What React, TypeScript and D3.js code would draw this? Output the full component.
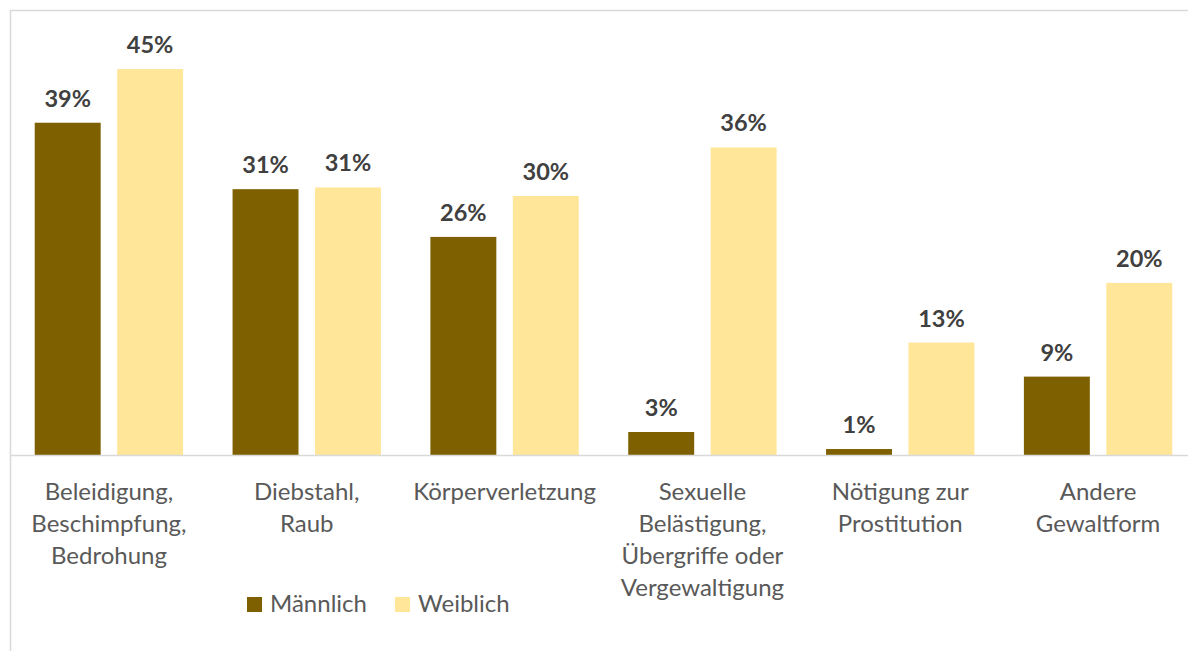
import React from "react";
import * as d3 from "d3";

const categories: string[][] = [
  ["Beleidigung,", "Beschimpfung,", "Bedrohung"],
  ["Diebstahl,", "Raub"],
  ["Körperverletzung"],
  ["Sexuelle", "Belästigung,", "Übergriffe oder", "Vergewaltigung"],
  ["Nötigung zur", "Prostitution"],
  ["Andere", "Gewaltform"],
];
const maennlich = [39.0, 31.2, 25.6, 2.7, 0.7, 9.2];
const weiblich = [45.3, 31.4, 30.4, 36.1, 13.2, 20.2];
const seriesNames = ["Männlich", "Weiblich"];
const seriesColors = ["#7F6000", "#FFE699"];

const W = 1188;
const H = 651;
const FONT = "Lato, 'Open Sans', sans-serif";

export default function App() {
  const baseY = 455;
  const x0 = d3
    .scaleBand<number>()
    .domain(categories.map((_, i) => i))
    .range([10, 1197])
    .paddingInner(0)
    .paddingOuter(0);
  const x1 = d3
    .scaleBand<number>()
    .domain([0, 1])
    .range([0, x0.bandwidth()])
    .paddingInner(0.2)
    .paddingOuter(0.3);
  const y = d3.scaleLinear().domain([0, 50]).range([baseY, baseY - 426]);
  const fmt = (v: number) => `${Math.round(v)}%`;
  const series = [maennlich, weiblich];

  return (
    <svg
      width={W}
      height={H}
      style={{ position: "absolute", left: 0, top: 0, background: "#fff" }}
      fontFamily={FONT}
    >
      <rect x={10.5} y={10.5} width={W + 20} height={H + 20} fill="#fff" stroke="#D9D9D9" strokeWidth={1.5} />
      {series.map((vals, s) =>
        vals.map((v, i) => {
          const bx = (x0(i) as number) + (x1(s) as number);
          const bw = x1.bandwidth();
          return (
            <g key={`${s}-${i}`}>
              <rect x={bx} y={y(v)} width={bw} height={baseY - y(v)} fill={seriesColors[s]} />
              <text
                x={bx + bw / 2}
                y={y(v) - 16}
                textAnchor="middle"
                fontSize={23.5}
                fontWeight={700}
                fill="#404040"
              >
                {fmt(v)}
              </text>
            </g>
          );
        })
      )}
      <line x1={10} x2={W} y1={baseY + 0.5} y2={baseY + 0.5} stroke="#D9D9D9" strokeWidth={1.5} />
      {categories.map((lines, i) => {
        const cx = (x0(i) as number) + x0.bandwidth() / 2;
        return (
          <text key={i} textAnchor="middle" fontSize={24} fill="#595959">
            {lines.map((l, j) => (
              <tspan key={j} x={cx} y={500 + j * 32}>
                {l}
              </tspan>
            ))}
          </text>
        );
      })}
      <g>
        {seriesNames.map((n, s) => {
          const lx = s === 0 ? 247 : 395;
          return (
            <g key={n}>
              <rect x={lx} y={597} width={15} height={15} fill={seriesColors[s]} />
              <text x={lx + 23} y={612} fontSize={24} fill="#595959">
                {n}
              </text>
            </g>
          );
        })}
      </g>
    </svg>
  );
}
